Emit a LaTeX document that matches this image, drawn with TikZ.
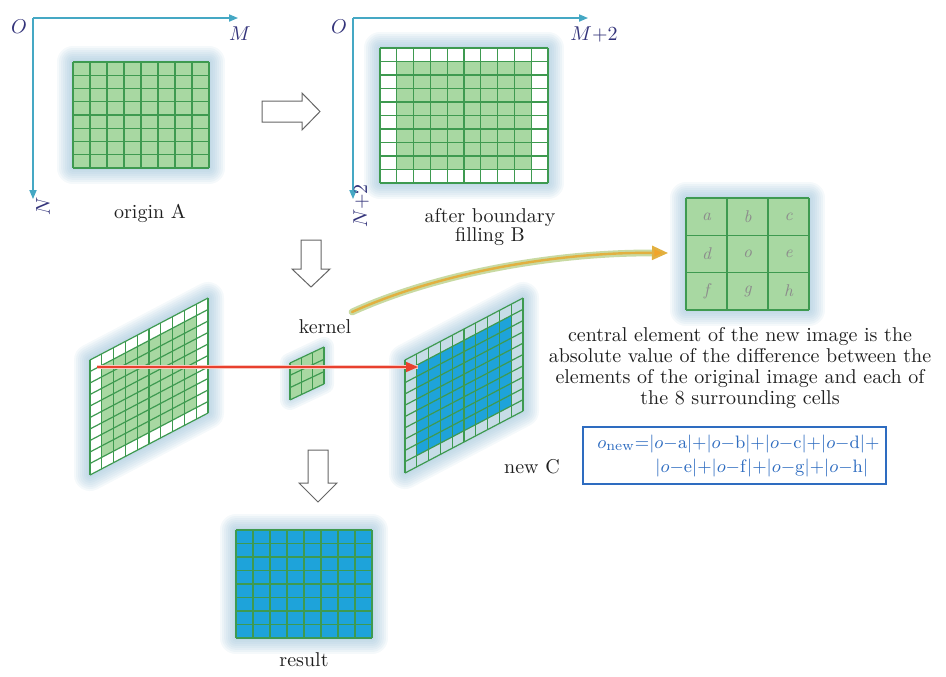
\documentclass[tikz,border=0pt]{standalone}
\usetikzlibrary{arrows.meta}
\definecolor{cellg}{HTML}{A8D8A2}
\definecolor{lineg}{HTML}{3E9A50}
\definecolor{glowc}{HTML}{8CB8D2}
\definecolor{cellb}{HTML}{1EA3DA}
\definecolor{cellgb}{HTML}{C6DCE6}
\definecolor{axisc}{HTML}{45A8C4}
\definecolor{labc}{HTML}{33337A}
\definecolor{formc}{HTML}{2E6CC0}
\definecolor{goldc}{HTML}{E2B040}
\definecolor{goldglow}{HTML}{C8DAA2}
\definecolor{tipc}{HTML}{F2A428}
\definecolor{redc}{HTML}{E8402E}
\newcommand\myglow[1]{\foreach \gwid in {16,14,12,10,8,6,4,2}{\draw[glowc, line join=round, line width=\gwid pt, draw opacity=0.09] #1;}}
\begin{document}
\begin{tikzpicture}[x=0.5pt,y=-0.5pt,
  txt/.style={font=\fontsize{10}{9.6}\selectfont, text=black!88, inner sep=0pt},
  axlab/.style={font=\fontsize{10}{12}\selectfont, text=labc, inner sep=0pt},
  axis/.style={axisc, line width=0.6pt, -{Triangle[length=4.5pt,width=3.6pt]}},
  gridl/.style={lineg, line width=0.6pt},
  hollow/.style={draw=black!60, fill=white, line width=0.5pt, line join=miter},
  klet/.style={font=\fontsize{8.5}{10}\selectfont\itshape, text=black!45, inner sep=0pt},
  ftxt/.style={font=\fontsize{9.5}{11}\selectfont, text=formc, inner sep=0pt},
]
\useasboundingbox (0,0) rectangle (946,676);

% ---------- axes ----------
\coordinate (oA) at (33,18); \coordinate (mA) at (238,18); \coordinate (nA) at (33,199);
\draw[axis] (oA) -- (mA);
\draw[axis] (oA) -- (nA);
\node[axlab] (labOA) at (19,27) {$O$};
\node[axlab] (labMA) at (240,34) {$M$};
\node[axlab, rotate=90] (labNA) at (43,206) {$N$};

\coordinate (oB) at (353,18); \coordinate (mB) at (588,18); \coordinate (nB) at (353,199);
\draw[axis] (oB) -- (mB);
\draw[axis] (oB) -- (nB);
\node[axlab] (labOB) at (339,27) {$O$};
\node[axlab] (labMB) at (594,34) {$M{+}2$};
\node[axlab, rotate=90] (labNB) at (361,206) {$N{+}2$};

% ---------- grid A ----------
\myglow{(73,62) rectangle (209,168)}
\fill[cellg] (73,62) rectangle (209,168);
\foreach \i in {0,...,8} {\draw[gridl] ({73+17*\i},62) -- ({73+17*\i},168);}
\foreach \j in {0,...,8} {\draw[gridl] (73,{62+13.25*\j}) -- (209,{62+13.25*\j});}
\node[txt] (lA) at (150,213) {origin A};

% ---------- grid B ----------
\myglow{(380,48) rectangle (548,183)}
\fill[white] (380,48) rectangle (548,183);
\fill[cellg] (396.8,61.5) rectangle (531.2,169.5);
\foreach \i in {0,...,10} {\draw[gridl] ({380+16.8*\i},48) -- ({380+16.8*\i},183);}
\foreach \j in {0,...,10} {\draw[gridl] (380,{48+13.5*\j}) -- (548,{48+13.5*\j});}
\node[txt, align=center] (lB) at (490,227) {after boundary\\filling B};

% ---------- hollow arrows ----------
\draw[hollow] (262,101) -- (302,101) -- (302,93) -- (320,111.5) -- (302,130) -- (302,122) -- (262,122) -- cycle;
\draw[hollow] (301,240) -- (321,240) -- (321,269) -- (330,269) -- (311,287) -- (292,269) -- (301,269) -- cycle;
\draw[hollow] (308,450) -- (328,450) -- (328,483) -- (337,483) -- (318,502) -- (299,483) -- (308,483) -- cycle;

% ---------- kernel 3x3 box ----------
\myglow{(686,198) rectangle (809,310)}
\fill[cellg] (686,198) rectangle (809,310);
\foreach \i in {0,...,3} {\draw[gridl] ({686+41*\i},198) -- ({686+41*\i},310);}
\foreach \j in {0,...,3} {\draw[gridl] (686,{198+37.33*\j}) -- (809,{198+37.33*\j});}
\node[klet] (ka) at (706.5,217) {a};
\node[klet] (kb) at (747.5,217) {b};
\node[klet] (kc) at (788.5,217) {c};
\node[klet] (kd) at (706.5,254) {d};
\node[klet] (ko) at (747.5,254) {o};
\node[klet] (ke) at (788.5,254) {e};
\node[klet] (kf) at (706.5,291) {f};
\node[klet] (kg) at (747.5,291) {g};
\node[klet] (kh) at (788.5,291) {h};

% ---------- slanted left grid ----------
\begin{scope}[shift={(90,360)}, x={(5.9pt,3.1pt)}, y={(0pt,-5.75pt)}]
  \myglow{(0,0)--(10,0)--(10,10)--(0,10)--cycle}
  \fill[white] (0,0)--(10,0)--(10,10)--(0,10)--cycle;
  \fill[cellg] (1,1)--(9,1)--(9,9)--(1,9)--cycle;
  \foreach \i in {0,...,10} {\draw[gridl] (\i,0)--(\i,10); \draw[gridl] (0,\i)--(10,\i);}
\end{scope}

% ---------- slanted right grid C ----------
\begin{scope}[shift={(405,360)}, x={(5.9pt,3.1pt)}, y={(0pt,-5.65pt)}]
  \myglow{(0,0)--(10,0)--(10,10)--(0,10)--cycle}
  \fill[cellgb] (0,0)--(10,0)--(10,10)--(0,10)--cycle;
  \fill[cellb] (1,1)--(9,1)--(9,9)--(1,9)--cycle;
  \foreach \i in {0,...,10} {\draw[gridl] (\i,0)--(\i,10); \draw[gridl] (0,\i)--(10,\i);}
\end{scope}

% ---------- small kernel ----------
\begin{scope}[shift={(290,363)}, x={(5.67pt,2.67pt)}, y={(0pt,-6.15pt)}]
  \foreach \gwid in {10,8,6,4,2}{\draw[glowc, line join=round, line width=\gwid pt, draw opacity=0.1] (0,0)--(3,0)--(3,3)--(0,3)--cycle;}
  \fill[cellg] (0,0)--(3,0)--(3,3)--(0,3)--cycle;
  \foreach \i in {0,...,3} {\draw[gridl] (\i,0)--(\i,3); \draw[gridl] (0,\i)--(3,\i);}
\end{scope}
\node[txt] (lK) at (325,327) {kernel};

% ---------- red arrow ----------
\coordinate (rs) at (97,367); \coordinate (re) at (418,367);
\draw[redc!30, line width=2.2pt] (rs) -- (re);
\draw[redc, line width=0.8pt, -{Triangle[length=6pt,width=5pt]}] (rs) -- (re);

% ---------- curved arrow ----------
\coordinate (cs) at (352,312); \coordinate (ce) at (668,253);
\draw[goldglow, line width=3.4pt, line cap=round] (cs) .. controls (440,272) and (560,252) .. ([xshift=-6pt]ce);
\draw[goldc, line width=1.2pt, -{Triangle[length=8pt,width=7pt,fill=tipc]}, line cap=round] (cs) .. controls (440,272) and (560,252) .. (ce);

% ---------- result grid ----------
\myglow{(236,530) rectangle (372,638)}
\fill[cellb] (236,530) rectangle (372,638);
\foreach \i in {0,...,8} {\draw[gridl] ({236+17*\i},530) -- ({236+17*\i},638);}
\foreach \j in {0,...,8} {\draw[gridl] (236,{530+13.5*\j}) -- (372,{530+13.5*\j});}
\node[txt] (lR) at (304,660) {result};

% ---------- texts ----------
\node[txt, align=center, font=\fontsize{10}{10.35}\selectfont] (desc) at (740,368)
  {central element of the new image is the\\absolute value of the difference between the\\elements of the original image and each of\\the 8 surrounding cells};
\node[txt] (lC) at (532,467) {new C};

% ---------- formula ----------
\node[draw=formc, line width=0.8pt, minimum width=151.5pt, minimum height=28.5pt, inner sep=0pt] (fbox) at (734.5,455.5) {};
\node[ftxt, anchor=base west] (f1) at (597,448) {$o_{\mathrm{new}}{=}|o{-}\mathrm{a}|{+}|o{-}\mathrm{b}|{+}|o{-}\mathrm{c}|{+}|o{-}\mathrm{d}|{+}$};
\node[ftxt, anchor=base west] (f2) at (655,472) {$|o{-}\mathrm{e}|{+}|o{-}\mathrm{f}|{+}|o{-}\mathrm{g}|{+}|o{-}\mathrm{h}|$};
\end{tikzpicture}
\end{document}
